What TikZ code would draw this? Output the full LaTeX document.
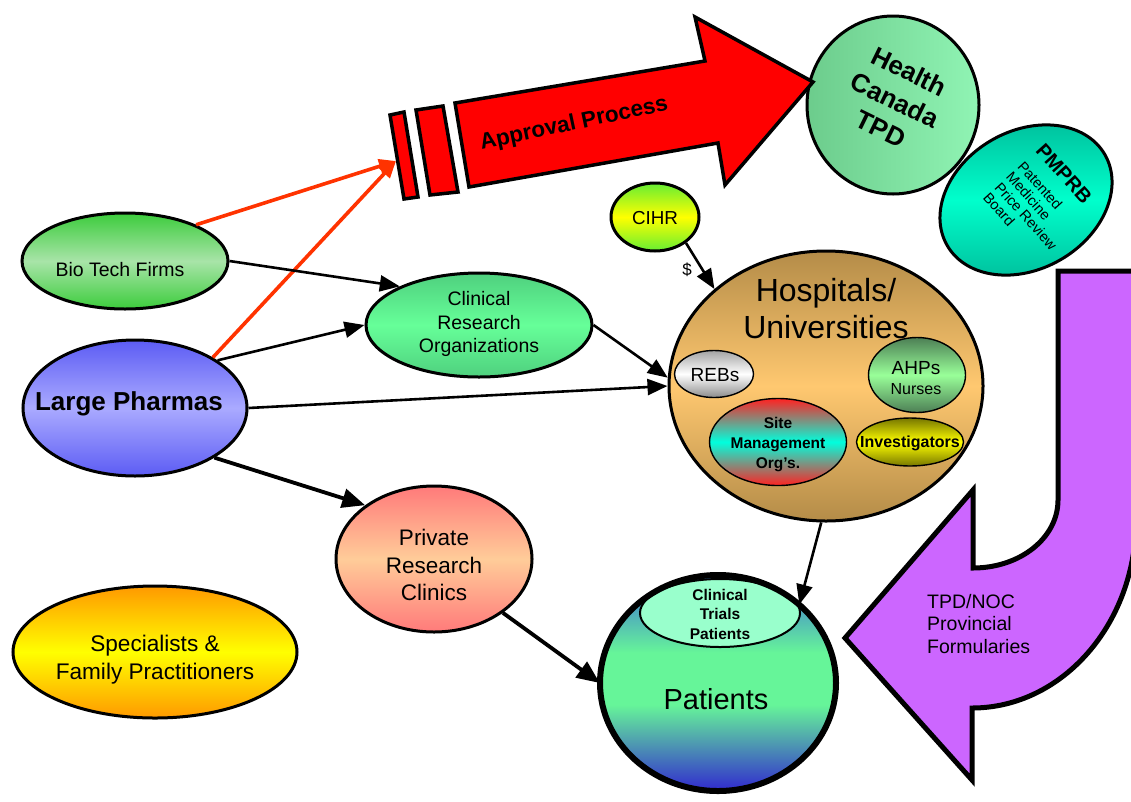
\documentclass[tikz,border=0pt]{standalone}
\usepackage{fontspec}
\setmainfont{Liberation Sans}
\usetikzlibrary{shapes.geometric,arrows.meta}
\definecolor{bioA}{HTML}{3CCC3C}\definecolor{bioB}{HTML}{A8E4A8}
\definecolor{phA}{HTML}{5C5CF4}\definecolor{phB}{HTML}{AAAAFF}
\definecolor{croA}{HTML}{4FD07E}\definecolor{croB}{HTML}{66FF99}
\definecolor{prcA}{HTML}{FF7A7A}\definecolor{prcB}{HTML}{FFCC99}
\definecolor{specA}{HTML}{FF9900}\definecolor{specB}{HTML}{FFFF00}
\definecolor{cihrA}{HTML}{66EE33}\definecolor{cihrB}{HTML}{FFFF00}
\definecolor{hospA}{HTML}{B48C48}\definecolor{hospB}{HTML}{FFC870}
\definecolor{rebA}{HTML}{8C8C8C}\definecolor{rebB}{HTML}{FFFFFF}
\definecolor{ahpA}{HTML}{4D7F55}\definecolor{ahpB}{HTML}{99FF99}
\definecolor{smoA}{HTML}{FF2222}\definecolor{smoB}{HTML}{00FFDD}
\definecolor{invA}{HTML}{777700}\definecolor{invB}{HTML}{FFFF00}
\definecolor{hcA}{HTML}{6CCC8C}\definecolor{hcB}{HTML}{90F4B4}
\definecolor{pmA}{HTML}{00BB99}\definecolor{pmB}{HTML}{00FFCC}
\definecolor{pattop}{HTML}{4488CC}\definecolor{patgreen}{HTML}{66F599}\definecolor{patbot}{HTML}{3333CC}
\definecolor{ctpfill}{HTML}{99FFCC}
\definecolor{purplearrow}{HTML}{CC66FF}
\definecolor{redline}{HTML}{FF3300}
\pgfdeclareverticalshading{patshade}{100bp}{color(0bp)=(patbot); color(26bp)=(patbot); color(45bp)=(patgreen); color(57bp)=(patgreen); color(71bp)=(pattop); color(100bp)=(pattop)}
\tikzset{
  ell/.style={ellipse, draw=black, line width=3pt, inner sep=0pt},
  inell/.style={ellipse, draw=black, line width=1.4pt, inner sep=0pt},
  txt/.style={inner sep=0pt, align=center, text=black},
  conn/.style={draw=black, line width=2.6pt, -{Triangle[length=20pt,width=16pt]}},
  thickconn/.style={draw=black, line width=3.8pt, -{Triangle[length=23pt,width=19pt]}},
  redconn/.style={draw=redline, line width=3.6pt, -{Triangle[length=17pt,width=14pt]}},
  shadeAB/.style 2 args={top color=#1, bottom color=#1, middle color=#2},
}
\newcommand{\fsz}[2]{\fontsize{#1}{#2}\selectfont}
\begin{document}
\begin{tikzpicture}[x=1pt,y=-1pt]
\useasboundingbox (0,0) rectangle (1131,801);
\fill[white] (0,0) rectangle (1131,801);

% Health Canada
\node[ell, minimum width=172pt, minimum height=178pt, left color=hcA, right color=hcB] (hc) at (893,105) {};
\node[txt, rotate=-26, font=\bfseries\fsz{26}{32}] (hct) at (895,100) {Health\\Canada\\TPD};

% Approval process arrow
\draw[line width=3.5pt, fill=red, line join=miter] (455,103) -- (705,61) -- (695,17) -- (813,82) -- (725,185) -- (718,143) -- (469,187) -- cycle;
\draw[line width=3.5pt, fill=red, line join=miter] (390,115) -- (404,112) -- (418,197) -- (404,199) -- cycle;
\draw[line width=3.5pt, fill=red, line join=miter] (416,110) -- (443,106) -- (458,192) -- (430,195) -- cycle;
\node[txt, rotate=12, font=\bfseries\fsz{22.5}{26}] (apt) at (574,124) {Approval Process};
\coordinate (apin) at (396,161);

% PMPRB
\node[ell, rotate=30, minimum width=182pt, minimum height=138pt, shadeAB={pmA}{pmB}] (pm) at (1026,200) {};
\node[txt, rotate=-48, anchor=north west, align=left, font=\fsz{14.5}{15.5}] (pmt) at (1045,142) {{\bfseries\fsz{20}{20}PMPRB}\\[8.5pt]Patented\\Medicine\\Price Review\\Board};

% Purple arrow
\draw[line width=5pt, fill=purplearrow, line join=miter] (1058,271) -- (1136,271) -- (1136,520) .. controls (1136,624) and (1062,708) .. (972,708) -- (972,780) -- (845,638) -- (973,490) -- (973,568) .. controls (1020,568) and (1058,538) .. (1058,500) -- cycle;
\node[txt, anchor=west, align=left, font=\fsz{19.5}{22.5}] (tpd) at (927,624) {TPD/NOC\\Provincial\\Formularies};

% left nodes
\node[ell, minimum width=206pt, minimum height=96pt, shadeAB={bioA}{bioB}] (bio) at (125,261) {};
\node[txt, font=\fsz{19.5}{23}] (biot) at (120,270) {Bio Tech Firms};
\node[ell, minimum width=224pt, minimum height=136pt, shadeAB={phA}{phB}] (pharma) at (135,408) {};
\node[txt, font=\bfseries\fsz{26}{30}] (pharmat) at (129,404) {Large Pharmas};
\node[ell, minimum width=226pt, minimum height=104pt, shadeAB={croA}{croB}] (cro) at (479,325) {};
\node[txt, font=\fsz{19.5}{23.5}] (crot) at (479,324) {Clinical\\Research\\Organizations};
\node[ell, minimum width=196pt, minimum height=146pt, shadeAB={prcA}{prcB}] (prc) at (434,559) {};
\node[txt, font=\fsz{22.5}{27.5}] (prct) at (434,565) {Private\\Research\\Clinics};
\node[ell, minimum width=284pt, minimum height=132pt, shadeAB={specA}{specB}] (spec) at (155,652) {};
\node[txt, font=\fsz{22.6}{28}] (spect) at (155,660) {Specialists \&\\Family Practitioners};

% CIHR
\node[ell, minimum width=88pt, minimum height=68pt, shadeAB={cihrA}{cihrB}] (cihr) at (655,217) {};
\node[txt, font=\fsz{18.8}{22}] (cihrt) at (655,218) {CIHR};

% Hospitals
\node[ell, minimum width=314pt, minimum height=270pt, shadeAB={hospA}{hospB}] (hosp) at (826,386) {};
\node[txt, font=\fsz{32}{37}] (hospt) at (826,309) {Hospitals/\\Universities};
\node[inell, minimum width=79pt, minimum height=47pt, top color=rebA!80, bottom color=rebA, middle color=rebB] (rebs) at (714,374) {};
\node[txt, font=\fsz{19}{22}] (rebst) at (715,375) {REBs};
\node[inell, minimum width=97pt, minimum height=75pt, shadeAB={ahpA}{ahpB}] (ahps) at (917,375) {};
\node[txt, font=\fsz{19}{20}] (ahpst) at (916,378) {AHPs\\{\fsz{16}{20}Nurses}};
\node[inell, minimum width=137pt, minimum height=87pt, shadeAB={smoA}{smoB}] (smo) at (778,442) {};
\node[txt, font=\bfseries\fsz{15.5}{20}] (smot) at (778,445) {Site\\Management\\Org’s.};
\node[inell, minimum width=107pt, minimum height=48pt, shadeAB={invA}{invB}] (inv) at (910,442) {};
\node[txt, font=\bfseries\fsz{16}{20}] (invt) at (910,443) {Investigators};

% Patients
\node[ellipse, inner sep=0pt, minimum width=236pt, minimum height=216pt, shading=patshade] (pat) at (718,683) {};
\node[inell, line width=2pt, minimum width=160pt, minimum height=68pt, fill=ctpfill] (ctp) at (720,613) {};
\draw[line width=6pt] (pat.center) ellipse [x radius=118, y radius=108];
\node[txt, font=\bfseries\fsz{15.5}{19.5}] (ctpt) at (720,614) {Clinical\\Trials\\Patients};
\node[txt, font=\fsz{29}{34}] (patt) at (716,699) {Patients};

% connectors
\draw[redconn] (bio.27) -- (apin);
\draw[redconn] (pharma.33) -- (apin);
\draw[conn] (bio.east) -- (cro.154);
\draw[conn] (pharma.30) -- (cro.west);
\draw[conn] (pharma.east) -- (hosp.west);
\draw[conn] (cro.east) -- (hosp.177);
\draw[thickconn] (pharma.-32) -- (prc.142);
\draw[thickconn] (prc.-38) -- (pat.west);
\draw[conn] (cihr.-40) -- (hosp.139);
\node[txt, font=\fsz{17}{20}] (dollar) at (687,270) {\$};
\draw[conn] (hosp.-92) -- (pat.44);
\end{tikzpicture}
\end{document}
